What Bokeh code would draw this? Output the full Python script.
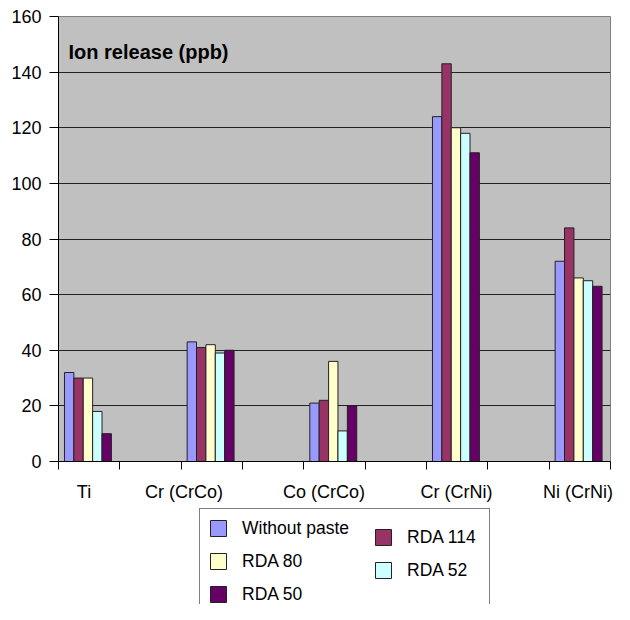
import numpy as np
from bokeh.plotting import figure
from bokeh.layouts import column
from bokeh.models import (FixedTicker, Legend, LegendItem, Label, ColumnDataSource)
from bokeh.embed import file_html
from bokeh.resources import INLINE

# ---- data ----
categories = ["Ti", "Cr (CrCo)", "Co (CrCo)", "Cr (CrNi)", "Ni (CrNi)"]
series_names = ["Without paste", "RDA 114", "RDA 80", "RDA 52", "RDA 50"]
without_paste = [32, 43, 21, 124, 72]
rda_114 = [30, 41, 22, 143, 84]
rda_80 = [30, 42, 36, 120, 66]
rda_52 = [18, 39, 11, 118, 65]
rda_50 = [10, 40, 20, 111, 63]
y_ticks = [0, 20, 40, 60, 80, 100, 120, 140, 160]

# ---- layout / style ----
colors = ["#9999FF", "#993366", "#FFFFCC", "#CCFFFF", "#660066"]
label_pos = [0.416, 2.046, 4.33, 6.49, 8.47]   # where the category texts sit
FONT = "Liberation Sans"

p = figure(width=614, height=504, output_backend="svg", toolbar_location=None,
           x_range=(0, 9), y_range=(0, 160),
           min_border_left=58, min_border_right=4, min_border_top=16,
           min_border_bottom=42)
p.background_fill_color = "#C0C0C0"
p.border_fill_color = "white"
p.outline_line_color = "#808080"
p.outline_line_width = 1

n_series = len(series_names)
bar_w = 0.153
centers = np.arange(len(categories)) * 2 + 0.48
all_series = [without_paste, rda_114, rda_80, rda_52, rda_50]
for k, (vals, col) in enumerate(zip(all_series, colors)):
    xs = centers + (k - (n_series - 1) / 2) * bar_w
    src = ColumnDataSource(dict(x=xs, top=vals))
    p.vbar(x="x", top="top", width=bar_w, bottom=0, source=src,
           fill_color=col, line_color="#222222", line_width=1)

# axes
p.xgrid.visible = False
p.ygrid.grid_line_color = "#222222"
p.ygrid.grid_line_width = 1
p.yaxis.ticker = FixedTicker(ticks=y_ticks)
p.yaxis.major_tick_out = 9
p.yaxis.major_tick_in = 0
p.yaxis.minor_tick_out = 0
p.yaxis.minor_tick_in = 0
p.yaxis.major_label_standoff = 8
p.yaxis.major_label_text_font = FONT
p.yaxis.major_label_text_font_size = "18px"
p.yaxis.major_label_text_color = "black"
p.yaxis.axis_line_color = "black"
p.yaxis.major_tick_line_color = "black"

p.xaxis.ticker = FixedTicker(ticks=label_pos, minor_ticks=list(range(0, 10)))
p.xaxis.major_label_overrides = {pos: c for pos, c in zip(label_pos, categories)}
p.xaxis.major_tick_out = 0
p.xaxis.major_tick_in = 0
p.xaxis.minor_tick_out = 8
p.xaxis.minor_tick_in = 0
p.xaxis.minor_tick_line_color = "black"
p.xaxis.major_label_standoff = 12
p.xaxis.major_label_text_font = FONT
p.xaxis.major_label_text_font_size = "18px"
p.xaxis.major_label_text_color = "black"
p.xaxis.axis_line_color = "black"

# title inside plot
p.add_layout(Label(x=10, y=410, x_units="screen", y_units="screen",
                   text="Ion release (ppb)", text_font=FONT,
                   text_font_size="20px", text_font_style="bold",
                   text_color="black", text_baseline="alphabetic"))

# ---- legend strip below the chart ----
lf = figure(width=614, height=100, output_backend="svg", toolbar_location=None,
            x_axis_type=None, y_axis_type=None, x_range=(0, 1), y_range=(0, 1),
            min_border_left=58, min_border_right=4,
            min_border_top=0, min_border_bottom=0)
lf.outline_line_color = None
lf.background_fill_color = None
lf.border_fill_color = "white"
proxies = []
for col in colors:
    # legend swatch carriers (no visible mark: NaN position)
    proxies.append(lf.vbar(x=[np.nan], top=[np.nan], width=0.1, fill_color=col,
                           line_color="#222222", line_width=1))

left_idx = [0, 2, 4]
right_idx = [1, 3]
legA = Legend(items=[LegendItem(label=series_names[i], renderers=[proxies[i]]) for i in left_idx],
              location=(141, -10), orientation="vertical",
              glyph_width=20, glyph_height=20, label_height=22, label_width=239,
              spacing=11, padding=8, margin=0, label_standoff=14,
              label_text_font=FONT, label_text_font_size="17.5px",
              label_text_color="black",
              border_line_color="black", border_line_width=1,
              background_fill_color="white", background_fill_alpha=1)
legB = Legend(items=[LegendItem(label=series_names[i], renderers=[proxies[i]]) for i in right_idx],
              location=(307, 15), orientation="vertical",
              glyph_width=20, glyph_height=20, label_height=22,
              spacing=11, padding=8, margin=0, label_standoff=14,
              label_text_font=FONT, label_text_font_size="17.5px",
              label_text_color="black",
              border_line_alpha=0, background_fill_alpha=0)
lf.add_layout(legA, "center")
lf.add_layout(legB, "center")

layout = column(p, lf, spacing=0)
open("out.html", "w").write(file_html(layout, INLINE))
